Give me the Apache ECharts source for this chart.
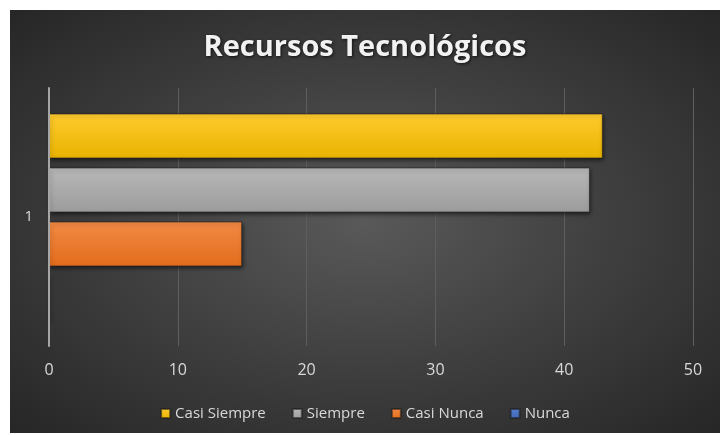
<!DOCTYPE html>
<html>
<head>
<meta charset="utf-8">
<script src="https://cdn.jsdelivr.net/npm/echarts@6/dist/echarts.min.js"></script>
<style>
  html, body { margin: 0; padding: 0; background: #fff; }
  #graphMain {
    position: absolute; left: 10px; top: 10px; width: 710px; height: 423px;
    background: radial-gradient(ellipse at 50% 50%, #595959 0%, #3c3c3c 55%, #262626 100%);
  }
</style>
</head>
<body>
<div id="graphMain"></div>
<script>
// datos
const categories = ['1']
const seriesNames = ['Casi Siempre', 'Siempre', 'Casi Nunca', 'Nunca']
const casiSiempre = [43]
const siempre = [42]
const casiNunca = [15]
const nunca = [0]
const xMin = 0
const xMax = 50
const xStep = 10

// colores de cada serie (arriba / abajo del degradado)
const colors = [
  ['#ffcb2e', '#e9b300'],
  ['#b8b8b8', '#9c9c9c'],
  ['#f28a44', '#e36c1c'],
  ['#5580cf', '#3d66b5']
]
const values = [casiSiempre, siempre, casiNunca, nunca]

function barStyle (c) {
  return {
    color: new echarts.graphic.LinearGradient(0, 0, 0, 1, [
      { offset: 0, color: c[0] },
      { offset: 1, color: c[1] }
    ]),
    borderColor: 'rgba(30,30,30,0.6)',
    borderWidth: 1,
    shadowColor: 'rgba(0,0,0,0.55)',
    shadowBlur: 4,
    shadowOffsetX: 1,
    shadowOffsetY: 2
  }
}

const series = seriesNames.map(function (name, i) {
  return {
    name: name,
    type: 'bar',
    data: values[i],
    barWidth: 45,
    barGap: '20%',
    itemStyle: barStyle(colors[i])
  }
})

const myGraph = echarts.init(document.getElementById('graphMain'))
myGraph.setOption({
  animation: false,
  backgroundColor: 'transparent',
  color: colors.map(function (c) { return c[0] }),
  title: {
    text: 'Recursos Tecnológicos',
    left: 'center',
    top: 18,
    textStyle: {
      color: '#f2f2f2',
      fontFamily: 'Open Sans',
      fontWeight: 'bold',
      fontSize: 29,
      textShadowColor: 'rgba(0,0,0,0.7)',
      textShadowBlur: 3,
      textShadowOffsetX: 1,
      textShadowOffsetY: 1
    }
  },
  legend: {
    data: seriesNames,
    top: 391,
    left: 'center',
    icon: 'rect',
    itemWidth: 9,
    itemHeight: 9,
    itemGap: 26,
    textStyle: { color: '#d9d9d9', fontSize: 15, fontFamily: 'Open Sans' }
  },
  grid: {
    left: 39,
    right: 27,
    top: 78,
    bottom: 87,
    containLabel: false
  },
  xAxis: {
    type: 'value',
    min: xMin,
    max: xMax,
    interval: xStep,
    axisLine: { show: false },
    axisTick: { show: false },
    splitLine: { lineStyle: { color: '#5e5e5e', width: 1 } },
    axisLabel: { color: '#d9d9d9', fontSize: 16, margin: 16, fontFamily: 'Open Sans' }
  },
  yAxis: {
    type: 'category',
    data: categories,
    z: 5,
    axisLine: { show: true, lineStyle: { color: '#a6a6a6', width: 2 } },
    axisTick: { show: false },
    axisLabel: { color: '#d9d9d9', fontSize: 15, margin: 16, fontFamily: 'Open Sans' }
  },
  series: series
})
</script>
</body>
</html>
